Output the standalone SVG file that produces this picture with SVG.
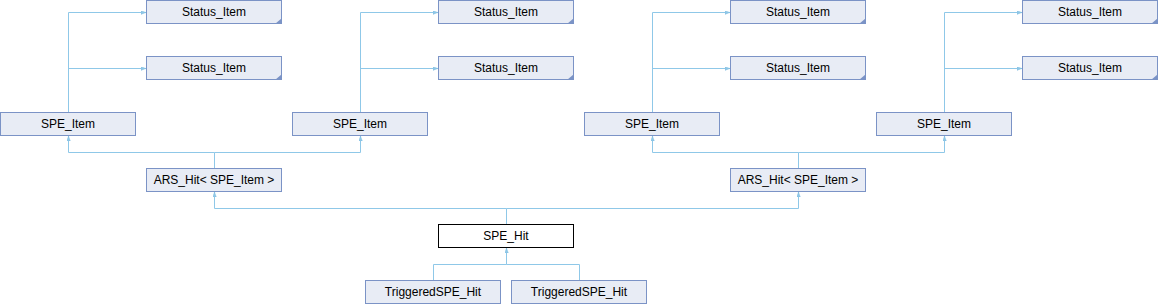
<svg xmlns="http://www.w3.org/2000/svg" width="1158" height="304" viewBox="0 0 1158 304">
<style>
.n rect{fill:#e8ecf5;stroke:#7b93c6;stroke-width:1}
.n.main rect{fill:#ffffff;stroke:#000000}
.n text{font-family:"Liberation Sans",Arial,sans-serif;font-size:12px;fill:#000;text-anchor:middle}
.n polygon{fill:#7b93c6}
#edges path{fill:none;stroke:#8fc8e8;stroke-width:1}
</style>
<defs>
<marker id="ah" viewBox="0 0 8 6" refX="8" refY="3" markerWidth="5" markerHeight="4" markerUnits="userSpaceOnUse" orient="auto">
<path d="M0,0 L8,3 L0,6 z" fill="#8fc8e8" stroke="#7ab8dc" stroke-width="0.5"/>
</marker>
</defs>
<g id="edges">
<path d="M68.5,112.5 V12.5 H146" marker-end="url(#ah)"/>
<path d="M68.5,68.5 H146" marker-end="url(#ah)"/>
<path d="M360.5,112.5 V12.5 H438" marker-end="url(#ah)"/>
<path d="M360.5,68.5 H438" marker-end="url(#ah)"/>
<path d="M652.5,112.5 V12.5 H730" marker-end="url(#ah)"/>
<path d="M652.5,68.5 H730" marker-end="url(#ah)"/>
<path d="M944.5,112.5 V12.5 H1022" marker-end="url(#ah)"/>
<path d="M944.5,68.5 H1022" marker-end="url(#ah)"/>
<path d="M214.5,168.5 V152.5 H68.5 V136" marker-end="url(#ah)"/>
<path d="M214.5,152.5 H360.5 V136" marker-end="url(#ah)"/>
<path d="M798.5,168.5 V152.5 H652.5 V136" marker-end="url(#ah)"/>
<path d="M798.5,152.5 H944.5 V136" marker-end="url(#ah)"/>
<path d="M506.5,224.5 V208.5 H214.5 V192" marker-end="url(#ah)"/>
<path d="M506.5,208.5 H798.5 V192" marker-end="url(#ah)"/>
<path d="M433.5,280.5 V264.5 H506.5 V248" marker-end="url(#ah)"/>
<path d="M579.5,280.5 V264.5 H506.5"/>
</g>
<g id="status1" class="n"><rect x="146.5" y="0.5" width="135" height="23"/><polygon points="275.5,23.5 281.5,23.5 281.5,18.5"/><text x="214" y="16">Status_Item</text></g>
<g id="status2" class="n"><rect x="146.5" y="56.5" width="135" height="23"/><polygon points="275.5,79.5 281.5,79.5 281.5,74.5"/><text x="214" y="72">Status_Item</text></g>
<g id="status3" class="n"><rect x="438.5" y="0.5" width="135" height="23"/><polygon points="567.5,23.5 573.5,23.5 573.5,18.5"/><text x="506" y="16">Status_Item</text></g>
<g id="status4" class="n"><rect x="438.5" y="56.5" width="135" height="23"/><polygon points="567.5,79.5 573.5,79.5 573.5,74.5"/><text x="506" y="72">Status_Item</text></g>
<g id="status5" class="n"><rect x="730.5" y="0.5" width="135" height="23"/><polygon points="859.5,23.5 865.5,23.5 865.5,18.5"/><text x="798" y="16">Status_Item</text></g>
<g id="status6" class="n"><rect x="730.5" y="56.5" width="135" height="23"/><polygon points="859.5,79.5 865.5,79.5 865.5,74.5"/><text x="798" y="72">Status_Item</text></g>
<g id="status7" class="n"><rect x="1022.5" y="0.5" width="135" height="23"/><polygon points="1151.5,23.5 1157.5,23.5 1157.5,18.5"/><text x="1090" y="16">Status_Item</text></g>
<g id="status8" class="n"><rect x="1022.5" y="56.5" width="135" height="23"/><polygon points="1151.5,79.5 1157.5,79.5 1157.5,74.5"/><text x="1090" y="72">Status_Item</text></g>
<g id="speitem1" class="n"><rect x="0.5" y="112.5" width="135" height="23"/><text x="68" y="128">SPE_Item</text></g>
<g id="speitem2" class="n"><rect x="292.5" y="112.5" width="135" height="23"/><text x="360" y="128">SPE_Item</text></g>
<g id="speitem3" class="n"><rect x="584.5" y="112.5" width="135" height="23"/><text x="652" y="128">SPE_Item</text></g>
<g id="speitem4" class="n"><rect x="876.5" y="112.5" width="135" height="23"/><text x="944" y="128">SPE_Item</text></g>
<g id="arshit1" class="n"><rect x="146.5" y="168.5" width="135" height="23"/><text x="214" y="184">ARS_Hit&lt; SPE_Item &gt;</text></g>
<g id="arshit2" class="n"><rect x="730.5" y="168.5" width="135" height="23"/><text x="798" y="184">ARS_Hit&lt; SPE_Item &gt;</text></g>
<g id="spehit" class="n main"><rect x="438.5" y="224.5" width="135" height="23"/><text x="506" y="240">SPE_Hit</text></g>
<g id="trig1" class="n"><rect x="365.5" y="280.5" width="135" height="23"/><text x="433" y="296">TriggeredSPE_Hit</text></g>
<g id="trig2" class="n"><rect x="511.5" y="280.5" width="135" height="23"/><text x="579" y="296">TriggeredSPE_Hit</text></g>
</svg>
